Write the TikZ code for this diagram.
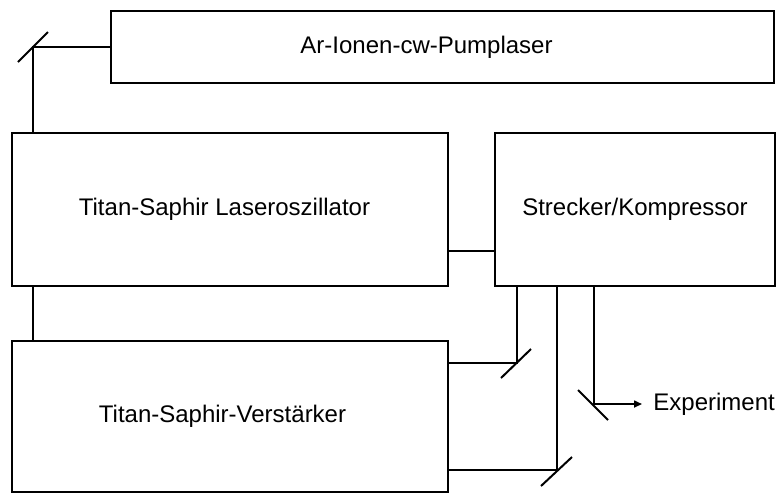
\documentclass[tikz,border=0pt]{standalone}
\usepackage{fontspec}
\setmainfont{Liberation Sans}
\usetikzlibrary{arrows.meta}
\begin{document}
\begin{tikzpicture}[
        x=0.5pt, y=-0.5pt,
        every node/.style={font=\fontsize{12}{14}\selectfont},
        box/.style={draw, rectangle, line width=1pt, inner sep=0pt},
        beam/.style={draw, line width=0.8pt},
        mirror/.style={draw, line width=1pt},
    ]
    \useasboundingbox (0,0) rectangle (779,494);
    \node[box, minimum width=331.5pt, minimum height=36pt](pump) at (442.5,47){\hspace*{-16pt}Ar-Ionen-cw-Pumplaser};
    \node[box, minimum width=218pt, minimum height=76.5pt](osz) at (230,209.5){\hspace*{-5.5pt}Titan-Saphir Laseroszillator};
    \node[box, minimum width=140pt, minimum height=76.5pt](streck) at (635,209.5){Strecker/Kompressor};
    \node[box, minimum width=218pt, minimum height=75.5pt](verst) at (230,416.5){\hspace*{-7.5pt}Titan-Saphir-Verst\"arker};
    \node[anchor=west, inner xsep=5.5pt, inner ysep=0pt](exp) at (642,404){Experiment};
    % mirrors
    \coordinate (m1) at (33,47);
    \coordinate (m2) at (517,363);
    \coordinate (m3) at (557,470);
    \coordinate (m4) at (594,404);
    \draw[mirror] (m1) +(-15,15) -- +(15,-15);
    \draw[mirror] (m2) +(-16,15) -- +(14,-14);
    \draw[mirror] (m3) +(-16,16) -- +(15,-13);
    \draw[mirror] (m4) +(-16,-14) -- +(14,16);
    % beams
    \draw[beam] (pump.west) -- (m1) -- (osz.north -| m1);
    \draw[beam] (osz.south -| m1) -- (verst.north -| m1);
    \draw[beam] ([yshift=-20.75pt]osz.east) -- ([yshift=-20.75pt]streck.west);
    \draw[beam] (streck.south -| m2) -- (m2) -- (m2 -| verst.east);
    \draw[beam] (streck.south -| m3) -- (m3) -- (m3 -| verst.east);
    \draw[beam, -{Triangle[length=4pt,width=3.5pt]}] (streck.south -| m4) -- (m4) -- (exp.west);
\end{tikzpicture}
\end{document}
